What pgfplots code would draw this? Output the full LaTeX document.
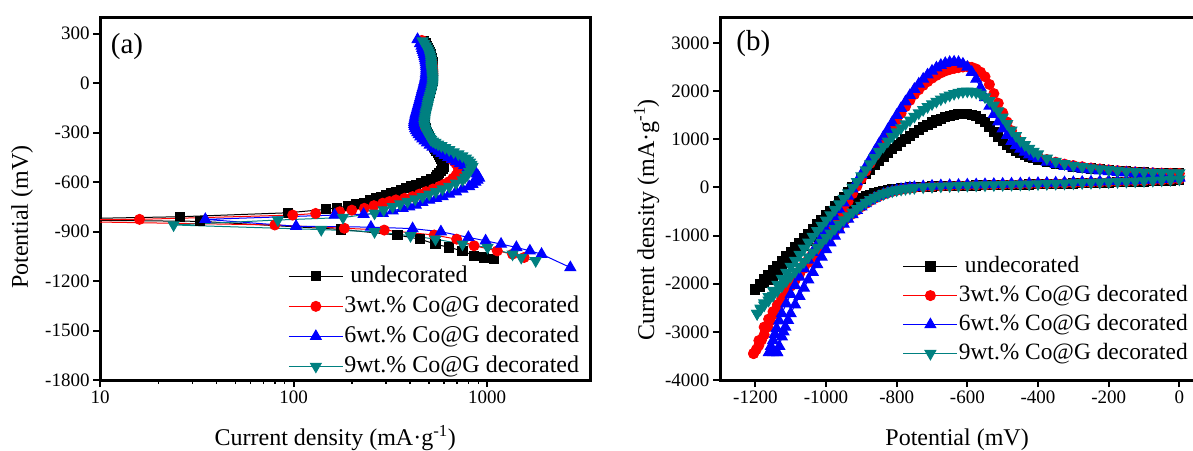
\documentclass[border=0pt]{standalone}
\usepackage{pgfplots}
\pgfplotsset{compat=1.18}
\usepackage{fontspec}
\setmainfont{Liberation Serif}
\definecolor{teal2}{RGB}{0,128,128}
\pgfplotsset{
  mystyle/.style={
    scale only axis,
    separate axis lines,
    axis line style={line width=3pt, line cap=rect, black},
    major tick style={line width=2pt, black},
    minor tick style={line width=1.4pt, black},
    major tick length=7pt,
    minor tick length=4pt,
    tick align=outside,
    tick pos=left,
    /pgf/number format/assume math mode=true,
    /pgf/number format/1000 sep={},
    tick label style={font=\fontsize{19}{19}\selectfont},
    label style={font=\fontsize{24}{24}\selectfont},
    legend style={draw=none, fill=none, font=\fontsize{24}{24}\selectfont, inner sep=0pt, row sep=6pt,
      nodes={inner sep=1pt, text height=17pt, text depth=5pt}},
    legend cell align=left,
    legend image code/.code={\draw[mark repeat=2,mark phase=2,##1] plot coordinates {(0pt,0pt) (27pt,0pt) (54pt,0pt)};},
  },
  s1/.style={black, line width=1pt, mark=square*, mark size=4.6pt},
  s2/.style={red, line width=1pt, mark=*, mark size=5pt},
  s3/.style={blue, line width=1pt, mark=triangle*, mark size=6.2pt},
  s4/.style={teal2, line width=1pt, mark=triangle*, mark size=6.2pt, mark options={rotate=180}},
}
\begin{document}
\begin{tikzpicture}
% ---------------- (a) ----------------
\begin{axis}[mystyle, at={(100pt,70pt)}, anchor=south west, width=490pt, height=362pt,
  xmode=log, xmin=10, xmax=3400, ymin=-1800, ymax=395,
  xtick={10,100,1000}, xticklabels={10,100,1000},
  ytick={-1800,-1500,...,300},
  xlabel={Current density (mA·g\textsuperscript{-1})},
  ylabel={Potential (mV)},
  xlabel style={at={(axis description cs:0.48,-0.16)}, anchor=center},
  ylabel style={at={(axis description cs:-0.159,0.45)}, anchor=center},
  legend style={at={(0.384,0.32)}, anchor=north west}]
\addplot[s1] coordinates {(473,255) (480,240) (487,225) (494,212) (500,200) (505,187) (510,175) (514,162) (517,150) (520,137) (522,125) (524,112) (525,100) (526,87) (527,75) (527,62) (527,50) (526,37) (525,25) (523,12) (520,0) (517,-12) (514,-25) (511,-37) (507,-50) (504,-62) (500,-75) (497,-87) (493,-100) (490,-112) (486,-125) (483,-137) (480,-150) (478,-162) (476,-175) (475,-187) (474,-200) (473,-212) (473,-225) (474,-237) (475,-250) (477,-262) (480,-275) (484,-287) (488,-300) (493,-312) (498,-325) (504,-337) (510,-350) (517,-362) (524,-375) (532,-387) (540,-400) (548,-412) (556,-425) (564,-437) (572,-450) (579,-460) (586,-470) (592,-478) (597,-485) (600,-495) (597,-507) (590,-520) (578,-532) (565,-545) (554,-556) (543,-567) (513,-582) (483,-597) (455,-607) (428,-617) (404,-627) (381,-637) (359,-648) (338,-658) (318,-668) (300,-678) (283,-688) (267,-698) (249,-712) (232,-725) (211,-735) (191,-745) (168,-755) (147,-765) (94,-786) (26,-810) (4,-828) (33,-838) (176,-887) (344,-921) (450,-946) (541,-976) (635,-996) (746,-1017) (856,-1047) (960,-1057) (1080,-1067)};
\addlegendentry{\hspace{6pt}undecorated}
\addplot[s2] coordinates {(460,259) (469,242) (478,225) (485,212) (492,200) (498,187) (503,175) (508,162) (512,150) (515,137) (518,125) (520,112) (522,100) (523,87) (524,75) (524,62) (524,50) (523,37) (522,25) (520,12) (517,0) (514,-12) (511,-25) (508,-37) (504,-50) (500,-62) (496,-75) (493,-87) (489,-100) (485,-112) (481,-125) (478,-137) (474,-150) (471,-162) (468,-175) (466,-187) (464,-200) (463,-212) (462,-225) (462,-237) (463,-250) (466,-262) (470,-275) (475,-287) (480,-300) (487,-312) (495,-325) (505,-337) (515,-350) (527,-362) (540,-375) (555,-387) (570,-400) (587,-412) (605,-425) (622,-437) (640,-450) (657,-462) (675,-475) (689,-487) (702,-500) (711,-513) (718,-526) (705,-543) (690,-560) (665,-578) (637,-597) (602,-612) (566,-627) (525,-642) (483,-658) (447,-673) (412,-688) (375,-698) (338,-708) (313,-718) (289,-728) (260,-743) (232,-759) (200,-770) (173,-780) (130,-790) (99,-800) (16,-826) (3,-832) (80,-860) (183,-880) (294,-891) (533,-921) (696,-946) (856,-986) (1128,-1017) (1353,-1037) (1553,-1057)};
\addlegendentry{3wt.\% Co@G decorated}
\addplot[s3] coordinates {(437,265) (450,240) (458,225) (462,212) (465,200) (469,187) (472,175) (475,162) (478,150) (480,137) (482,125) (483,112) (484,100) (484,87) (484,75) (483,62) (482,50) (480,37) (478,25) (475,12) (472,0) (469,-12) (466,-25) (463,-37) (460,-50) (457,-62) (454,-75) (451,-87) (448,-100) (445,-112) (442,-125) (439,-137) (436,-150) (433,-162) (430,-175) (427,-187) (425,-200) (423,-212) (421,-225) (420,-237) (420,-250) (422,-262) (425,-275) (430,-287) (436,-300) (443,-312) (452,-325) (463,-337) (475,-350) (489,-362) (505,-375) (522,-387) (540,-400) (560,-412) (580,-425) (604,-437) (630,-450) (659,-462) (690,-475) (724,-487) (760,-500) (795,-512) (830,-525) (857,-537) (880,-550) (897,-563) (910,-576) (892,-588) (870,-600) (840,-613) (807,-627) (745,-642) (690,-658) (637,-673) (589,-688) (545,-698) (502,-708) (463,-723) (428,-739) (396,-749) (366,-759) (325,-774) (289,-789) (230,-795) (163,-800) (35,-826) (103,-868) (251,-873) (412,-882) (577,-901) (800,-935) (982,-956) (1180,-976) (1416,-996) (1663,-1017) (1910,-1037) (2690,-1118)};
\addlegendentry{6wt.\% Co@G decorated}
\addplot[s4] coordinates {(464,255) (473,240) (482,225) (489,212) (495,200) (500,187) (505,175) (508,162) (511,150) (513,137) (514,125) (515,112) (515,100) (517,87) (518,75) (520,62) (521,50) (522,37) (523,25) (523,12) (523,0) (522,-12) (520,-25) (517,-37) (514,-50) (511,-62) (507,-75) (504,-87) (500,-100) (497,-112) (495,-125) (492,-137) (490,-150) (487,-162) (484,-175) (481,-187) (479,-200) (477,-212) (475,-225) (474,-237) (473,-250) (475,-262) (478,-275) (483,-287) (488,-300) (495,-312) (502,-325) (508,-335) (513,-343) (525,-352) (540,-360) (558,-370) (580,-380) (607,-392) (637,-404) (672,-417) (710,-430) (744,-442) (776,-455) (797,-467) (815,-480) (829,-493) (840,-506) (826,-521) (807,-536) (790,-555) (770,-570) (746,-587) (690,-607) (637,-627) (588,-642) (543,-658) (502,-673) (464,-688) (425,-703) (388,-718) (355,-733) (325,-749) (292,-769) (262,-789) (180,-815) (83,-830) (24,-860) (139,-888) (262,-901) (402,-925) (541,-946) (746,-976) (1005,-996) (1353,-1037) (1500,-1057) (1782,-1077)};
\addlegendentry{9wt.\% Co@G decorated}
\node[anchor=west, font=\fontsize{29}{29}\selectfont] at (rel axis cs:0.015,0.92) {(a)};
\end{axis}
% ---------------- (b) ----------------
\begin{axis}[mystyle, at={(720pt,70pt)}, anchor=south west, width=477pt, height=362pt,
  xmin=-1300, xmax=50, ymin=-4000, ymax=3520,
  xtick={-1200,-1000,...,0}, ytick={-4000,-3000,...,3000},
  xlabel={Potential (mV)},
  ylabel={Current density (mA·g\textsuperscript{-1})},
  xlabel style={at={(axis description cs:0.497,-0.165)}, anchor=center},
  ylabel style={at={(axis description cs:-0.154,0.443)}, anchor=center},
  legend style={at={(0.383,0.347)}, anchor=north west, row sep=5pt, font=\fontsize{23.4}{23.4}\selectfont}]
% black
\addplot[s1] coordinates {(0,150) (-25,142) (-50,135) (-75,128) (-100,122) (-125,116) (-150,110) (-175,105) (-200,100) (-225,95) (-250,90) (-275,86) (-300,82) (-325,78) (-350,74) (-375,70) (-400,66) (-425,62) (-450,58) (-475,54) (-500,50) (-525,47) (-550,44) (-575,41) (-600,38) (-625,34) (-650,30) (-675,25) (-700,19) (-725,12) (-750,3) (-762.5,-3) (-775,-10) (-787.5,-18) (-800,-28) (-812.5,-40) (-825,-55) (-837.5,-73) (-850,-95) (-862.5,-120) (-875,-150) (-887.5,-185) (-900,-225) (-912.5,-270) (-925,-320) (-937.5,-378) (-950,-440) (-962.5,-512) (-975,-590) (-987.5,-673) (-1000,-760) (-1012.5,-850) (-1025,-940) (-1037.5,-1030) (-1050,-1120) (-1062.5,-1210) (-1075,-1300) (-1087.5,-1390) (-1100,-1480) (-1112.5,-1570) (-1125,-1660) (-1137.5,-1745) (-1150,-1830) (-1162.5,-1912) (-1175,-1990) (-1187.5,-2060) (-1200,-2120)};
\addlegendentry{\hspace{6pt}undecorated}
\addplot[s1, forget plot] coordinates {(-1200,-2120) (-1187.5,-2010) (-1175,-1910) (-1162.5,-1815) (-1150,-1720) (-1137.5,-1625) (-1125,-1530) (-1112.5,-1435) (-1100,-1340) (-1087.5,-1245) (-1075,-1150) (-1062.5,-1055) (-1050,-960) (-1037.5,-865) (-1025,-770) (-1012.5,-675) (-1000,-580) (-987.5,-485) (-975,-390) (-962.5,-292) (-950,-195) (-937.5,-97) (-925,0) (-912.5,93) (-900,185) (-887.5,278) (-875,370) (-862.5,460) (-850,550) (-837.5,636) (-825,720) (-812.5,797) (-800,870) (-787.5,938) (-775,1005) (-762.5,1068) (-750,1130) (-737.5,1191) (-725,1250) (-712.5,1302) (-700,1350) (-687.5,1392) (-675,1430) (-662.5,1462) (-650,1490) (-637.5,1510) (-625,1525) (-612.5,1532) (-600,1530) (-587.5,1512) (-575,1480) (-562.5,1428) (-550,1360) (-537.5,1265) (-525,1160) (-512.5,1055) (-500,960) (-487.5,882) (-475,815) (-462.5,760) (-450,712) (-437.5,672) (-425,637) (-412.5,606) (-400,578) (-375,528) (-350,488) (-325,458) (-300,433) (-275,412) (-250,393) (-225,375) (-200,360) (-175,346) (-150,334) (-125,323) (-100,314) (-75,306) (-50,299) (-25,293) (0,288)};
% red
\addplot[s2] coordinates {(0,170) (-25,160) (-50,152) (-75,144) (-100,137) (-125,130) (-150,124) (-175,118) (-200,112) (-225,106) (-250,101) (-275,96) (-300,91) (-325,86) (-350,81) (-375,77) (-400,73) (-425,69) (-450,65) (-475,61) (-500,57) (-525,53) (-550,49) (-575,45) (-600,41) (-625,37) (-650,32) (-675,26) (-700,18) (-725,8) (-750,-5) (-762.5,-14) (-775,-25) (-787.5,-40) (-800,-60) (-812.5,-83) (-825,-110) (-837.5,-142) (-850,-180) (-862.5,-225) (-875,-275) (-887.5,-335) (-900,-400) (-912.5,-472) (-925,-550) (-937.5,-632) (-950,-720) (-962.5,-813) (-975,-910) (-987.5,-1008) (-1000,-1110) (-1012.5,-1218) (-1025,-1330) (-1037.5,-1443) (-1050,-1560) (-1062.5,-1680) (-1075,-1800) (-1087.5,-1925) (-1100,-2050) (-1112.5,-2175) (-1125,-2300) (-1137.5,-2435) (-1150,-2580) (-1162.5,-2735) (-1175,-2900) (-1190,-3180) (-1205,-3450)};
\addlegendentry{3wt.\% Co@G decorated}
\addplot[s2, forget plot] coordinates {(-1205,-3450) (-1197.5,-3370) (-1190,-3280) (-1182.5,-3170) (-1175,-3060) (-1165,-2900) (-1157.5,-2770) (-1150,-2640) (-1137.5,-2480) (-1125,-2320) (-1112.5,-2175) (-1100,-2030) (-1087.5,-1890) (-1075,-1750) (-1062.5,-1620) (-1050,-1490) (-1037.5,-1365) (-1025,-1240) (-1012.5,-1120) (-1000,-1000) (-987.5,-872) (-975,-740) (-962.5,-597) (-950,-450) (-937.5,-292) (-925,-130) (-912.5,25) (-900,180) (-887.5,340) (-875,500) (-862.5,660) (-850,820) (-837.5,972) (-825,1120) (-812.5,1262) (-800,1400) (-787.5,1542) (-775,1680) (-762.5,1810) (-750,1930) (-737.5,2030) (-725,2120) (-712.5,2198) (-700,2270) (-687.5,2328) (-675,2380) (-662.5,2420) (-650,2450) (-637.5,2472) (-625,2490) (-612.5,2502) (-600,2510) (-587.5,2495) (-575,2460) (-562.5,2395) (-550,2300) (-537.5,2140) (-525,1950) (-512.5,1750) (-500,1550) (-487.5,1360) (-475,1180) (-462.5,1040) (-450,920) (-437.5,832) (-425,760) (-412.5,700) (-400,650) (-375,580) (-350,525) (-325,485) (-300,455) (-275,430) (-250,405) (-225,385) (-200,365) (-175,350) (-150,335) (-125,322) (-100,312) (-75,304) (-50,298) (-25,293) (0,290)};
% blue
\addplot[s3] coordinates {(0,195) (-25,180) (-50,170) (-75,160) (-100,152) (-125,145) (-150,138) (-175,132) (-200,126) (-225,120) (-250,115) (-275,110) (-300,105) (-325,100) (-350,95) (-375,90) (-400,86) (-425,82) (-450,78) (-475,74) (-500,70) (-525,66) (-550,62) (-575,58) (-600,54) (-625,49) (-650,44) (-675,38) (-700,30) (-725,18) (-750,2) (-762.5,-9) (-775,-22) (-787.5,-38) (-800,-58) (-812.5,-82) (-825,-110) (-837.5,-143) (-850,-180) (-862.5,-225) (-875,-275) (-887.5,-335) (-900,-400) (-912.5,-475) (-925,-560) (-937.5,-655) (-950,-760) (-962.5,-880) (-975,-1010) (-987.5,-1148) (-1000,-1290) (-1012.5,-1443) (-1025,-1600) (-1037.5,-1760) (-1050,-1920) (-1062.5,-2088) (-1075,-2260) (-1087.5,-2438) (-1100,-2620) (-1107.5,-2760) (-1115,-2900) (-1120,-3000) (-1125,-3100) (-1132,-3300) (-1138,-3430)};
\addlegendentry{6wt.\% Co@G decorated}
\addplot[s3, forget plot] coordinates {(-1138,-3430) (-1150,-3430) (-1162,-3430) (-1156,-3300) (-1150,-3180) (-1145,-3050) (-1140,-2930) (-1132.5,-2770) (-1125,-2620) (-1112.5,-2415) (-1100,-2220) (-1087.5,-2035) (-1075,-1860) (-1062.5,-1683) (-1050,-1510) (-1037.5,-1347) (-1025,-1190) (-1012.5,-1038) (-1000,-890) (-987.5,-743) (-975,-600) (-962.5,-460) (-950,-320) (-937.5,-177) (-925,-30) (-912.5,118) (-900,270) (-887.5,428) (-875,590) (-862.5,745) (-850,900) (-837.5,1050) (-825,1200) (-812.5,1350) (-800,1500) (-787.5,1643) (-775,1780) (-762.5,1913) (-750,2040) (-737.5,2150) (-725,2250) (-712.5,2340) (-700,2420) (-687.5,2485) (-675,2540) (-662.5,2578) (-650,2600) (-637.5,2607) (-625,2600) (-612.5,2565) (-600,2500) (-587.5,2395) (-575,2250) (-562.5,2070) (-550,1870) (-537.5,1690) (-525,1520) (-512.5,1365) (-500,1220) (-487.5,1085) (-475,960) (-462.5,872) (-450,800) (-437.5,737) (-425,680) (-412.5,637) (-400,600) (-375,530) (-350,480) (-325,440) (-300,410) (-275,385) (-250,365) (-225,345) (-200,330) (-175,315) (-150,305) (-125,295) (-100,285) (-75,275) (-50,262) (-25,240) (0,205)};
% teal
\addplot[s4] coordinates {(0,170) (-25,160) (-50,152) (-75,144) (-100,137) (-125,130) (-150,124) (-175,118) (-200,112) (-225,106) (-250,101) (-275,96) (-300,91) (-325,86) (-350,81) (-375,77) (-400,73) (-425,69) (-450,65) (-475,61) (-500,57) (-525,53) (-550,49) (-575,45) (-600,41) (-625,37) (-650,32) (-675,26) (-700,18) (-725,8) (-750,-6) (-762.5,-15) (-775,-26) (-787.5,-39) (-800,-55) (-812.5,-75) (-825,-100) (-837.5,-130) (-850,-165) (-862.5,-207) (-875,-255) (-887.5,-312) (-900,-375) (-912.5,-442) (-925,-515) (-937.5,-593) (-950,-675) (-962.5,-763) (-975,-855) (-987.5,-950) (-1000,-1045) (-1012.5,-1145) (-1025,-1245) (-1037.5,-1345) (-1050,-1445) (-1062.5,-1545) (-1075,-1645) (-1087.5,-1745) (-1100,-1845) (-1112.5,-1945) (-1125,-2045) (-1137.5,-2145) (-1150,-2245) (-1162.5,-2345) (-1175,-2445) (-1185,-2530) (-1195,-2620)};
\addlegendentry{9wt.\% Co@G decorated}
\addplot[s4, forget plot] coordinates {(-1195,-2620) (-1185,-2510) (-1175,-2400) (-1162.5,-2270) (-1150,-2140) (-1137.5,-2015) (-1125,-1890) (-1112.5,-1765) (-1100,-1640) (-1087.5,-1515) (-1075,-1390) (-1062.5,-1265) (-1050,-1140) (-1037.5,-1020) (-1025,-900) (-1012.5,-790) (-1000,-680) (-987.5,-570) (-975,-460) (-962.5,-345) (-950,-230) (-937.5,-115) (-925,0) (-912.5,120) (-900,240) (-887.5,365) (-875,490) (-862.5,615) (-850,740) (-837.5,852) (-825,960) (-812.5,1058) (-800,1150) (-787.5,1237) (-775,1320) (-762.5,1398) (-750,1475) (-737.5,1547) (-725,1615) (-712.5,1677) (-700,1735) (-687.5,1787) (-675,1835) (-662.5,1877) (-650,1915) (-637.5,1948) (-625,1975) (-612.5,1992) (-600,2000) (-587.5,1993) (-575,1975) (-562.5,1935) (-550,1880) (-537.5,1803) (-525,1710) (-512.5,1590) (-500,1460) (-487.5,1322) (-475,1190) (-462.5,1073) (-450,970) (-437.5,885) (-425,810) (-412.5,748) (-400,695) (-375,605) (-350,540) (-325,492) (-300,457) (-275,428) (-250,404) (-225,384) (-200,366) (-175,351) (-150,338) (-125,327) (-100,318) (-75,311) (-50,306) (-25,303) (0,302)};
\node[anchor=west, font=\fontsize{29}{29}\selectfont] at (rel axis cs:0.027,0.93) {(b)};
\end{axis}
\pgfresetboundingbox
\path[use as bounding box] (0,0) rectangle (1193pt,450pt);
\end{tikzpicture}
\end{document}
